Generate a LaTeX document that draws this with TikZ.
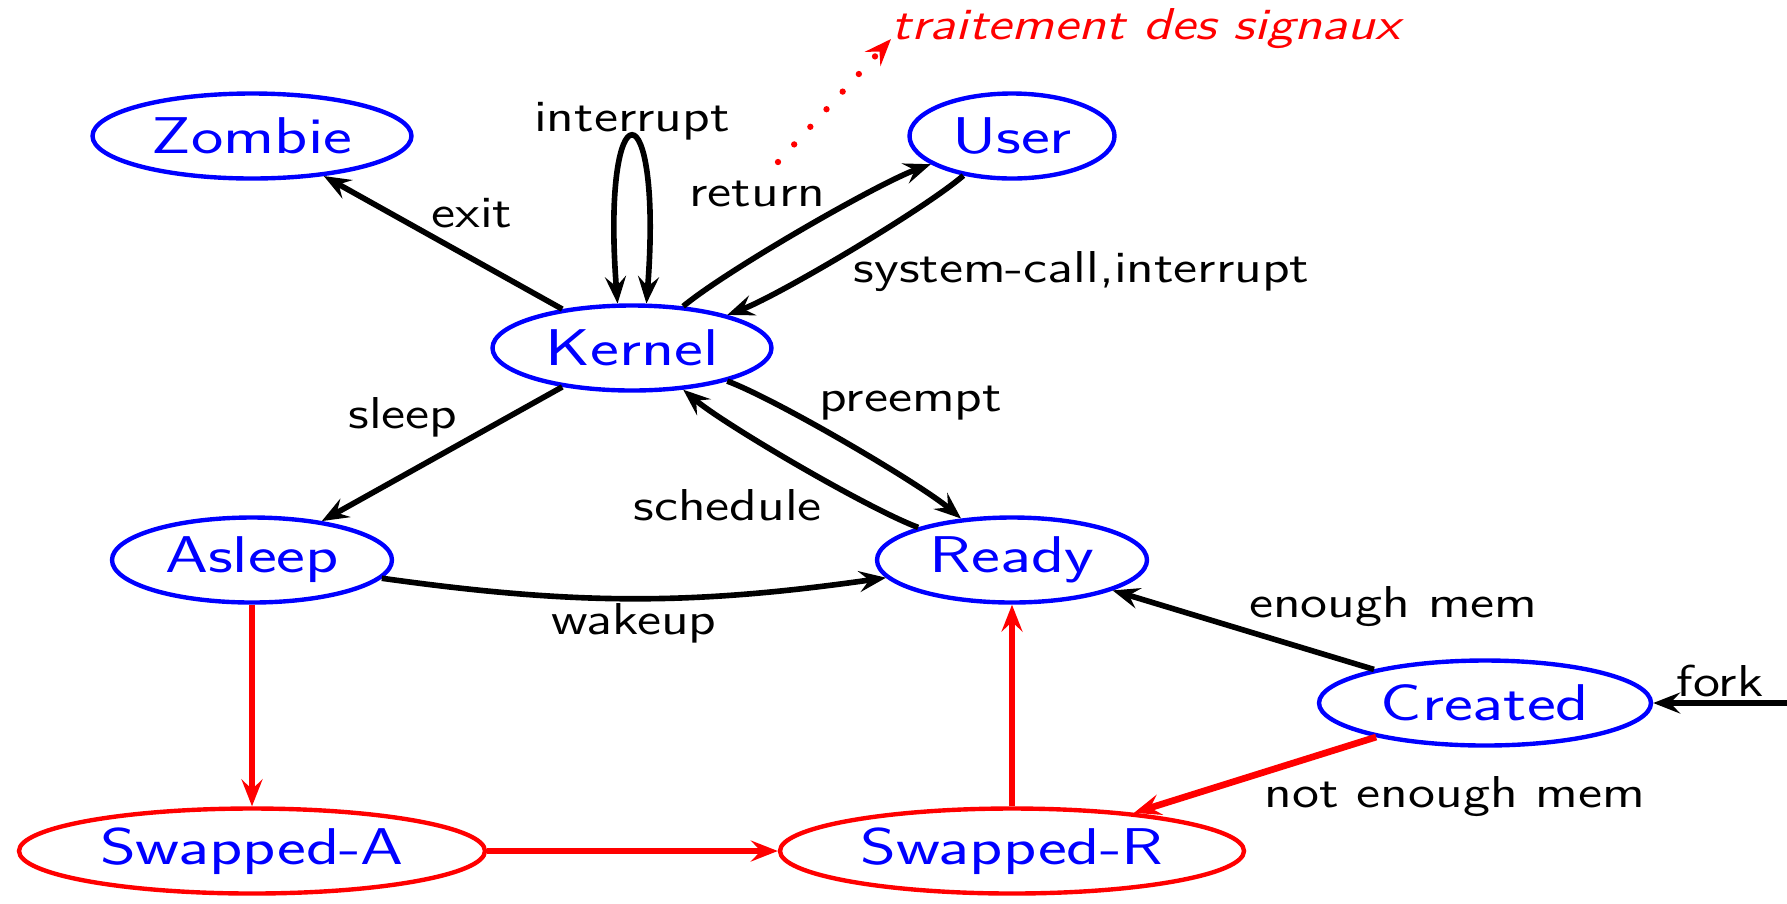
\documentclass[tikz,border=0pt]{standalone}
\usepackage{fontspec}
\setsansfont{Latin Modern Sans}[FakeStretch=1.235]
\newfontfamily\statefont{Latin Modern Sans}[FakeStretch=1.33]
\usetikzlibrary{arrows.meta,shapes.geometric}

\begin{document}
\begin{tikzpicture}[
  >={Stealth[length=2.7mm,width=2.1mm,inset=1mm]},
  state/.style={ellipse, draw=blue, line width=1.25pt, text=blue, inner sep=0pt,
                minimum height=0.85cm, font=\statefont\fontsize{14.7}{17}\selectfont},
  swapstate/.style={state, draw=red},
  edge/.style={line width=1.6pt, ->},
  swapedge/.style={edge, draw=red, line width=1.9pt},
  pair/.style={bend left=10, looseness=0.5},
  lbl/.style={inner sep=0pt, font=\sffamily\fontsize{12.7}{15}\selectfont},
  siglbl/.style={lbl, text=red, font=\sffamily\itshape\fontsize{12.7}{15}\selectfont}]

\useasboundingbox (0,0) rectangle (17.87,-9.03);

\node[state, minimum width=3.19cm]     (zombie)   at (2.52,-1.36)  {Zombie};
\node[state, minimum width=2.79cm]     (kernel)   at (6.32,-3.48)  {Kernel};
\node[state, minimum width=2.05cm]     (user)     at (10.12,-1.36) {User};
\node[state, minimum width=2.8cm]      (asleep)   at (2.52,-5.60)  {Asleep};
\node[state, minimum width=2.7cm]      (ready)    at (10.12,-5.60) {Ready};
\node[state, minimum width=3.32cm]     (created)  at (14.85,-7.03) {Created};
\node[swapstate, minimum width=4.66cm] (swappeda) at (2.52,-8.51)  {Swapped-A};
\node[swapstate, minimum width=4.64cm] (swappedr) at (10.12,-8.51) {Swapped-R};

\node[siglbl, anchor=base west] (signals) at (8.91,-0.39) {traitement des signaux};
\coordinate (sigstart) at (7.78,-1.62);
\coordinate (forkin) at (17.87,-7.03);

\draw[edge] (kernel) -- node[lbl, shift={(0.29,0.29)}] {exit} (zombie);
\draw[edge, <->] (kernel.108) .. controls +(-0.17,2.2) and +(0.17,2.2) .. (kernel.72)
  node[lbl, midway, shift={(0,0.17)}] {interrupt};
\draw[edge] (kernel) to[pair] node[lbl, shift={(-0.46,0.345)}] {return} (user);
\draw[edge] (user) to[pair] node[lbl, anchor=west, shift={(0.02,-0.2)}] {system-call,interrupt} (kernel);
\draw[edge] (kernel) to[pair] node[lbl, shift={(0.63,0.41)}] {preempt} (ready);
\draw[edge] (ready) to[pair] node[lbl, shift={(-0.695,-0.41)}] {schedule} (kernel);
\draw[edge] (kernel) -- node[lbl, shift={(-0.39,0.37)}] {sleep} (asleep);
\draw[edge] (asleep) to[bend right=8] node[lbl, shift={(0,-0.25)}] {wakeup} (ready);
\draw[edge] (created) -- node[lbl, shift={(1.5,0.23)}] {enough mem} (ready);
\draw[edge] (forkin) -- node[lbl, shift={(0,0.22)}] {fork} (created);

\draw[swapedge] (created) -- node[lbl, shift={(2.0,-0.22)}] {not enough mem} (swappedr);
\draw[swapedge] (asleep) -- (swappeda);
\draw[swapedge] (swappeda) -- (swappedr);
\draw[swapedge] (swappedr) -- (ready);

\draw[red, line width=1.8pt, line cap=round, dash pattern=on 0pt off 6.8pt, ->]
  (sigstart) -- (signals.base west);
\end{tikzpicture}
\end{document}
